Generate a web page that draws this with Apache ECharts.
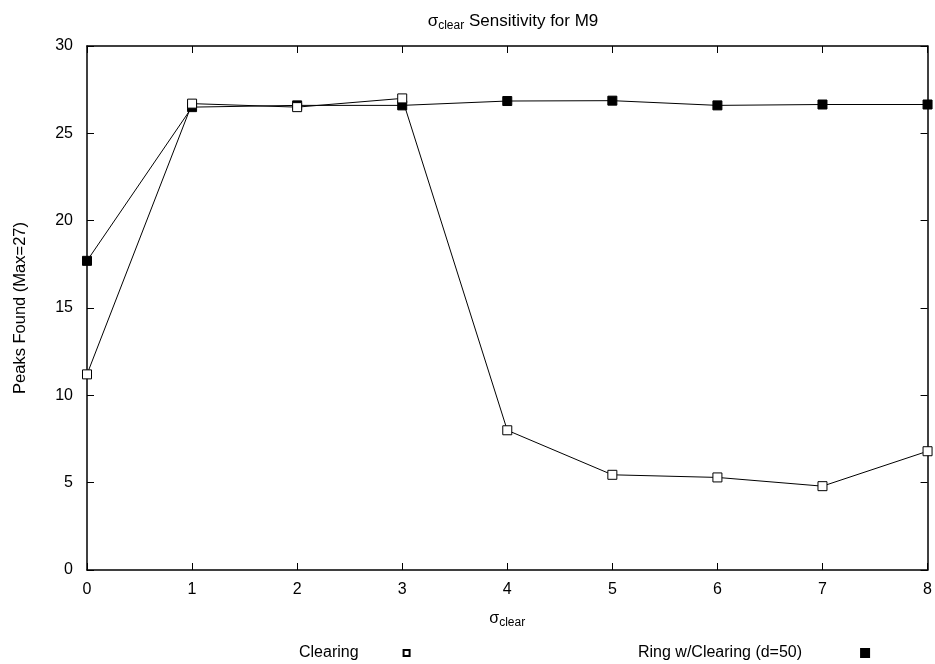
<!DOCTYPE html>
<html>
<head>
<meta charset="utf-8">
<script src="https://cdn.jsdelivr.net/npm/echarts@6/dist/echarts.min.js"></script>
<style>
  html, body { margin: 0; padding: 0; background: #fff; }
  #chart { width: 935px; height: 664px; }
</style>
</head>
<body>
<div id="chart"></div>
<script>
const sigmaClear = [0, 1, 2, 3, 4, 5, 6, 7, 8]
const clearing = [11.2, 26.7, 26.5, 27.0, 8.0, 5.45, 5.3, 4.8, 6.8]
const ringClearing = [17.7, 26.5, 26.6, 26.6, 26.85, 26.87, 26.6, 26.65, 26.65]
const yTicks = [0, 5, 10, 15, 20, 25, 30]

const font = 'Liberation Sans, Arial, sans-serif'
const fs = 16
const chart = echarts.init(document.getElementById('chart'), null, { renderer: 'canvas' })

const pairs = (ys) => sigmaClear.map((x, i) => [x, ys[i]])

// gnuplot style frame: ticks point inward on all four sides
const tick = { show: true, inside: true, length: 7, lineStyle: { color: '#000', width: 1 } }
const line = { show: true, onZero: false, lineStyle: { color: '#000', width: 1.5 } }

chart.setOption({
  animation: false,
  backgroundColor: '#fff',
  textStyle: { fontFamily: font, color: '#000' },
  title: {
    text: '{s|σ}{sub|clear}{t| Sensitivity for M9}',
    left: 508,
    textAlign: 'center',
    top: 6,
    textStyle: {
      fontWeight: 'normal',
      rich: {
        s: { fontSize: 17, fontFamily: font, color: '#000' },
        sub: { fontSize: 12, fontFamily: font, color: '#000', padding: [9, 0, 0, 0] },
        t: { fontSize: 17, fontFamily: font, color: '#000' }
      }
    }
  },
  grid: { left: 87, right: 5, top: 46, bottom: 94 },
  legend: [
    {
      data: [{ name: 'Clearing', icon: 'rect' }],
      left: 299,
      top: 645,
      padding: 0,
      align: 'right',
      itemWidth: 6,
      itemHeight: 6,
      textStyle: { fontSize: fs, fontFamily: font, color: '#000', padding: [0, 40, 0, 0] }
    },
    {
      data: [{ name: 'Ring w/Clearing (d=50)', icon: 'rect' }],
      left: 638,
      top: 645,
      padding: 0,
      align: 'right',
      itemWidth: 8,
      itemHeight: 8,
      textStyle: { fontSize: fs, fontFamily: font, color: '#000', padding: [0, 54, 0, 0] }
    }
  ],
  xAxis: [
    {
      type: 'value',
      min: 0,
      max: 8,
      interval: 1,
      name: '{s|σ}{sub|clear}',
      nameLocation: 'middle',
      nameGap: 38,
      nameTextStyle: {
        rich: {
          s: { fontSize: fs, fontFamily: font, color: '#000' },
          sub: { fontSize: 12, fontFamily: font, color: '#000', padding: [9, 0, 0, 0] }
        }
      },
      axisLine: line,
      axisTick: tick,
      axisLabel: { color: '#000', fontSize: fs, fontFamily: font, margin: 12 },
      splitLine: { show: false }
    },
    {
      type: 'value',
      position: 'top',
      min: 0,
      max: 8,
      interval: 1,
      axisLine: line,
      axisTick: tick,
      axisLabel: { show: false },
      splitLine: { show: false }
    }
  ],
  yAxis: [
    {
      type: 'value',
      min: 0,
      max: 30,
      interval: 5,
      name: 'Peaks Found (Max=27)',
      nameLocation: 'middle',
      nameGap: 58,
      nameTextStyle: { fontSize: 16.5, fontFamily: font, color: '#000' },
      axisLine: line,
      axisTick: tick,
      axisLabel: {
        color: '#000',
        fontSize: fs,
        fontFamily: font,
        margin: 14,
        formatter: (v) => yTicks.includes(v) ? String(v) : ''
      },
      splitLine: { show: false }
    },
    {
      type: 'value',
      position: 'right',
      min: 0,
      max: 30,
      interval: 5,
      axisLine: line,
      axisTick: tick,
      axisLabel: { show: false },
      splitLine: { show: false }
    }
  ],
  series: [
    {
      name: 'Clearing',
      type: 'line',
      data: pairs(clearing),
      symbol: 'rect',
      symbolSize: 9,
      clip: false,
      lineStyle: { color: '#000', width: 1 },
      itemStyle: { color: '#fff', borderColor: '#000', borderWidth: 1 },
      z: 3
    },
    {
      name: 'Ring w/Clearing (d=50)',
      type: 'line',
      xAxisIndex: 1,
      yAxisIndex: 1,
      data: pairs(ringClearing),
      symbol: 'rect',
      symbolSize: 9,
      clip: false,
      lineStyle: { color: '#000', width: 1 },
      itemStyle: { color: '#000', borderColor: '#000', borderWidth: 1 },
      z: 2
    }
  ]
})
</script>
</body>
</html>
